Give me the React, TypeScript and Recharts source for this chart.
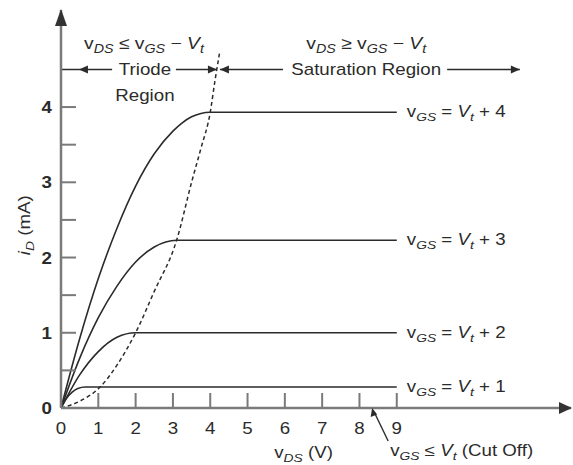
import React from 'react';
import { LineChart, Line, XAxis, YAxis, ReferenceLine, ReferenceDot } from 'recharts';

// ---- data ----
const xTicks = [0, 1, 2, 3, 4, 5, 6, 7, 8, 9];
const yTicks = [0, 0.5, 1, 1.5, 2, 2.5, 3, 3.5, 4];
const yLabelTicks = [0, 1, 2, 3, 4];

const curveVt1 = [
  { v: 0, i: 0 }, { v: 0.15, i: 0.13 }, { v: 0.3, i: 0.21 }, { v: 0.45, i: 0.26 },
  { v: 0.65, i: 0.28 }, { v: 9, i: 0.28 },
];
const curveVt2 = [
  { v: 0, i: 0 }, { v: 0.5, i: 0.44 }, { v: 1, i: 0.75 }, { v: 1.5, i: 0.94 },
  { v: 2, i: 1.0 }, { v: 9, i: 1.0 },
];
const curveVt3 = [
  { v: 0, i: 0 }, { v: 0.5, i: 0.66 }, { v: 1, i: 1.2 }, { v: 1.5, i: 1.62 },
  { v: 2, i: 1.94 }, { v: 2.5, i: 2.14 }, { v: 3.1, i: 2.23 }, { v: 9, i: 2.23 },
];
const curveVt4 = [
  { v: 0, i: 0 }, { v: 0.5, i: 0.92 }, { v: 1, i: 1.72 }, { v: 1.5, i: 2.39 },
  { v: 2, i: 2.95 }, { v: 2.5, i: 3.38 }, { v: 3, i: 3.68 }, { v: 3.25, i: 3.79 },
  { v: 3.5, i: 3.87 }, { v: 3.75, i: 3.915 }, { v: 4, i: 3.93 }, { v: 9, i: 3.93 },
];
const boundary = [
  { v: 0, i: 0 }, { v: 0.5, i: 0.09 }, { v: 1.05, i: 0.28 }, { v: 1.5, i: 0.57 },
  { v: 2, i: 1.0 }, { v: 2.5, i: 1.55 }, { v: 3.1, i: 2.23 }, { v: 3.5, i: 3.0 },
  { v: 3.75, i: 3.45 }, { v: 4, i: 3.93 }, { v: 4.13, i: 4.36 }, { v: 4.25, i: 4.72 },
];
const curves = [curveVt1, curveVt2, curveVt3, curveVt4];
const gsSteps = ['1', '2', '3', '4'];

const X_MAX = 13.67;
const Y_MAX = 5.29;
const REGION_Y = 4.5;

// header arrow segments [from, to]
const triodeSegs = [[0, 1.37], [3.08, 4.18]];
const satSegs = [[4.26, 5.95], [10.35, 12.3]];

// ---- styles ----
const FONT = "'Liberation Sans', Arial, Helvetica, sans-serif";
const INK = '#2b2b2b';
const AXIS = '#7a7a7a';
const SX = 1.17;

type Part = [string, 'n' | 'i' | 's'];

function Rich({ x, y, parts, anchor = 'start', size = 16, rotate = 0 }: any) {
  const kids: any[] = [];
  let shifted = false;
  parts.forEach(([t, k]: Part, idx: number) => {
    const sub = k === 's';
    let dy: number | undefined;
    if (sub && !shifted) { dy = 4; shifted = true; }
    else if (!sub && shifted) { dy = -4; shifted = false; }
    kids.push(
      <tspan key={idx} dy={dy} fontStyle={k === 'n' ? 'normal' : 'italic'} fontSize={sub ? size * 0.74 : size}>
        {t}
      </tspan>
    );
  });
  const tr = rotate
    ? `translate(${x},${y}) rotate(${rotate}) scale(${SX},1)`
    : `translate(${x},${y}) scale(${SX},1)`;
  return (
    <g transform={tr}>
      <text x={0} y={0} textAnchor={anchor} fontFamily={FONT} fill={INK} fontSize={size}>
        {kids}
      </text>
    </g>
  );
}

function Head({ x, y, dir, len = 9, hw = 4, fill = INK }: any) {
  let pts = '';
  if (dir === 'right') pts = `${x},${y} ${x - len},${y - hw} ${x - len},${y + hw}`;
  if (dir === 'left') pts = `${x},${y} ${x + len},${y - hw} ${x + len},${y + hw}`;
  if (dir === 'up') pts = `${x},${y} ${x - hw},${y + len} ${x + hw},${y + len}`;
  return <polygon points={pts} fill={fill} />;
}

const XTick = (p: any) => {
  const { x, y, payload } = p;
  return (
    <g>
      {payload.value !== 0 && <line x1={x} y1={y} x2={x} y2={y - 15} stroke={AXIS} strokeWidth={2} />}
      <g transform={`translate(${x},${y + 26}) scale(${SX},1)`}>
        <text x={0} y={0} textAnchor="middle" fontFamily={FONT} fontSize={16} fill={INK}>{payload.value}</text>
      </g>
    </g>
  );
};

const YTick = (p: any) => {
  const { x, y, payload } = p;
  const v = payload.value;
  return (
    <g>
      {v !== 0 && <line x1={x} y1={y} x2={x + 15} y2={y} stroke={AXIS} strokeWidth={2} />}
      {yLabelTicks.includes(v) && (
        <g transform={`translate(${x - 9},${y + 6}) scale(${SX},1)`}>
          <text x={0} y={0} textAnchor="end" fontFamily={FONT} fontSize={16} fontWeight="bold" fill={INK}>{v}</text>
        </g>
      )}
    </g>
  );
};

export default function App() {
  return (
    <div style={{ position: 'absolute', left: 0, top: 0 }}>
      <LineChart width={573} height={465} margin={{ top: 10, right: 2, left: 0, bottom: 0 }}>
        <XAxis
          type="number" dataKey="v" domain={[0, X_MAX]} ticks={xTicks} interval={0}
          tickSize={0} tickMargin={0} tickLine={false} height={57}
          axisLine={{ stroke: AXIS, strokeWidth: 2.5 }} tick={<XTick />} allowDataOverflow
        />
        <YAxis
          type="number" dataKey="i" domain={[0, Y_MAX]} ticks={yTicks} interval={0}
          tickSize={0} tickMargin={0} tickLine={false} width={61}
          axisLine={{ stroke: AXIS, strokeWidth: 2.5 }} tick={<YTick />} allowDataOverflow
        />

        {curves.map((c, k) => (
          <Line key={k} data={c} dataKey="i" type="monotone" stroke={INK} strokeWidth={1.6}
            dot={false} activeDot={false} isAnimationActive={false} />
        ))}
        <Line data={boundary} dataKey="i" type="monotone" stroke={INK} strokeWidth={1.5}
          strokeDasharray="4 3" dot={false} activeDot={false} isAnimationActive={false} />

        {/* axis arrowheads */}
        <ReferenceDot x={X_MAX} y={0} shape={(p: any) => <Head x={p.cx + 1} y={p.cy} dir="right" len={13} hw={6} fill="#333" />} />
        <ReferenceDot x={0} y={Y_MAX} shape={(p: any) => <Head x={p.cx} y={p.cy - 1} dir="up" len={17} hw={6} fill="#333" />} />

        {/* region arrows */}
        {[...triodeSegs, ...satSegs].map((s, k) => (
          <ReferenceLine key={'s' + k} segment={[{ x: s[0], y: REGION_Y }, { x: s[1], y: REGION_Y }]}
            stroke={INK} strokeWidth={1.6} />
        ))}
        <ReferenceDot x={0.48} y={REGION_Y} shape={(p: any) => <Head x={p.cx} y={p.cy} dir="left" />} />
        <ReferenceDot x={4.18} y={REGION_Y} shape={(p: any) => <Head x={p.cx} y={p.cy} dir="right" />} />
        <ReferenceDot x={4.26} y={REGION_Y} shape={(p: any) => <Head x={p.cx} y={p.cy} dir="left" />} />
        <ReferenceDot x={12.3} y={REGION_Y} shape={(p: any) => <Head x={p.cx} y={p.cy} dir="right" />} />

        <ReferenceDot x={2.25} y={REGION_Y} shape={(p: any) => (
          <g>
            <Rich x={p.cx} y={p.cy + 6} anchor="middle" parts={[['Triode', 'n']]} />
            <Rich x={p.cx} y={p.cy + 32} anchor="middle" parts={[['Region', 'n']]} />
            <Rich x={p.cx - 1} y={p.cy - 20} anchor="middle" size={16.5}
              parts={[['v', 'n'], ['DS', 's'], [' ≤ ', 'n'], ['v', 'n'], ['GS', 's'], [' − ', 'n'], ['V', 'i'], ['t', 's']]} />
          </g>
        )} />
        <ReferenceDot x={8.18} y={REGION_Y} shape={(p: any) => (
          <g>
            <Rich x={p.cx} y={p.cy + 6} anchor="middle" parts={[['Saturation Region', 'n']]} />
            <Rich x={p.cx} y={p.cy - 20} anchor="middle" size={16.5}
              parts={[['v', 'n'], ['DS', 's'], [' ≥ ', 'n'], ['v', 'n'], ['GS', 's'], [' − ', 'n'], ['V', 'i'], ['t', 's']]} />
          </g>
        )} />

        {/* curve labels */}
        {curves.map((c, k) => {
          const last = c[c.length - 1];
          return (
            <ReferenceDot key={'l' + k} x={last.v} y={last.i} shape={(p: any) => (
              <Rich x={p.cx + 10} y={p.cy + 5}
                parts={[['v', 'n'], ['GS', 's'], [' = ', 'n'], ['V', 'i'], ['t', 's'], [' + ' + gsSteps[k], 'n']]} />
            )} />
          );
        })}

        {/* cut off note */}
        <ReferenceDot x={8.34} y={0} shape={(p: any) => (
          <g>
            <line x1={p.cx + 16} y1={p.cy + 33} x2={p.cx + 2} y2={p.cy + 4} stroke={INK} strokeWidth={1.4} />
            <polygon points={`${p.cx},${p.cy} ${p.cx - 1.5},${p.cy + 9} ${p.cx + 5},${p.cy + 6.5}`} fill={INK} />
            <Rich x={p.cx + 18} y={p.cy + 48}
              parts={[['v', 'n'], ['GS', 's'], [' ≤ ', 'n'], ['V', 'i'], ['t', 's'], ['  (Cut Off)', 'n']]} />
          </g>
        )} />

        {/* axis titles */}
        <ReferenceDot x={6.5} y={0} shape={(p: any) => (
          <Rich x={p.cx} y={p.cy + 50} anchor="middle" parts={[['v', 'n'], ['DS', 's'], [' (V)', 'n']]} />
        )} />
        <ReferenceDot x={0} y={2.43} shape={(p: any) => (
          <Rich x={p.cx - 31} y={p.cy} anchor="middle" rotate={-90} parts={[['i', 'i'], ['D', 's'], [' (mA)', 'n']]} />
        )} />
      </LineChart>
    </div>
  );
}
